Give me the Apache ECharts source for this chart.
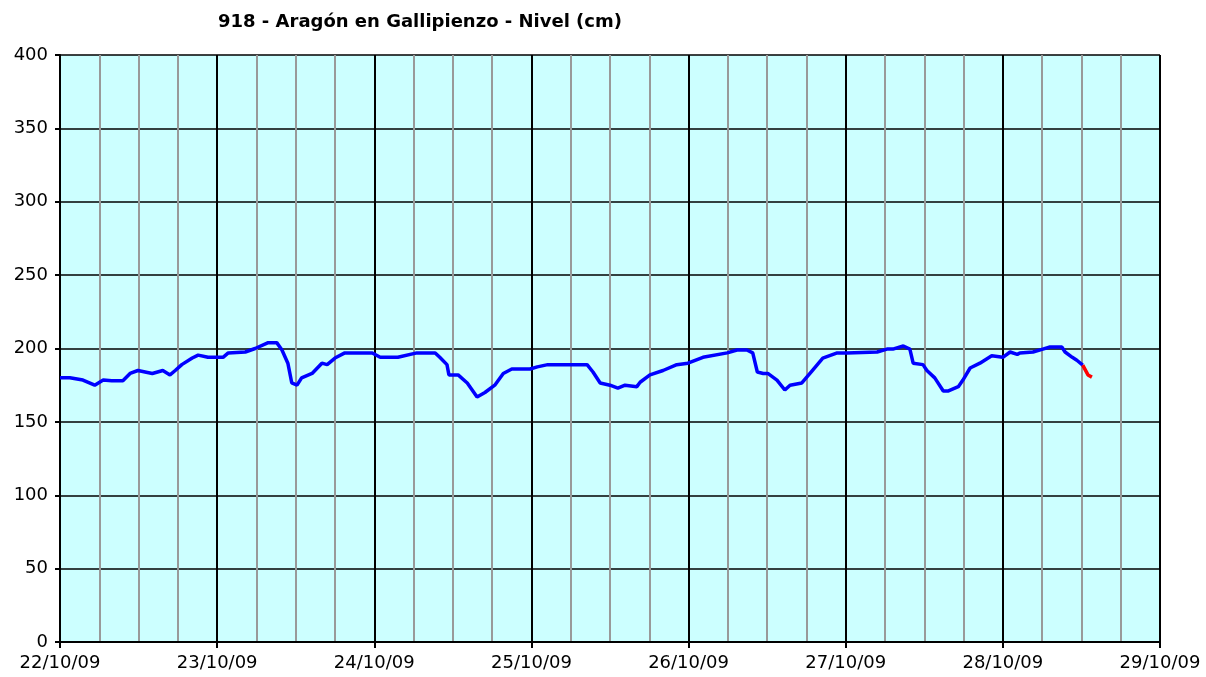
<!DOCTYPE html>
<html>
<head>
<meta charset="utf-8">
<script src="https://cdn.jsdelivr.net/npm/echarts@6/dist/echarts.min.js"></script>
<style>
html,body{margin:0;padding:0;background:#fff;}
#chart{width:1206px;height:677px;}
</style>
</head>
<body>
<div id="chart"></div>
<script>
var titleText = '918 - Aragón en Gallipienzo - Nivel (cm)';
var dayLabels = ['22/10/09','23/10/09','24/10/09','25/10/09','26/10/09','27/10/09','28/10/09','29/10/09'];
var yTicks = [0, 50, 100, 150, 200, 250, 300, 350, 400];

// hours since 22/10/09 00:00
var blueHours = [0,1.5,3.5,5.3,6.6,7.9,9.6,10.7,11.9,14.1,15.7,16.8,17.6,18.6,20.2,21.1,22.6,24.9,25.7,28.3,29.8,31.8,33.1,33.9,34.8,35.4,36.2,36.9,38.5,40.0,40.8,42.0,43.5,44.7,47.7,48.9,51.6,54.5,57.3,58.0,59.1,59.4,60.8,62.2,63.7,64.9,66.4,67.7,69.0,71.8,72.9,74.5,80.5,81.4,82.5,84.0,85.2,86.3,88.1,88.6,90.1,92.1,94.2,95.9,98.2,101.9,103.4,104.9,105.8,106.5,107.4,108.1,109.5,110.7,111.5,113.3,114.9,116.5,118.7,120.2,124.8,126.3,127.2,128.8,129.8,130.3,131.8,132.4,133.6,134.9,135.6,137.2,137.9,139.0,140.5,142.3,144.0,145.1,146.2,146.6,148.6,150.1,151.2,153.0,153.5,154.6,155.3,156.2];
var blueLevels = [180,180,178.5,175,178.5,178,178,183,185,183,185,182,185,189,193.5,195.5,194,194,197,197.6,200,204,204,199,190,176.5,175,180,183,190,189,193.5,197,197,197,194,194,197,197,194,189,182,182,176.5,167,170,175,183,186,186,187.5,189,189,184,176.5,175,173,175,174,177,182,185,189,190,194,197,199,199,197,184,183,183,178.5,171.7,175,176.5,185,193.5,197,197,197.6,199.6,199.6,201.7,199.6,190,189,185,180,171,171,174,178.5,186.7,190,195,194,197.6,196,197,197.6,199.6,201,201,197.6,194,192,188.7];
var redHours = [156.2,157.0,157.6];
var redLevels = [188.7,182,180.5];

function pairs(xs, ys){ return xs.map(function(x,i){ return [x, ys[i]]; }); }

var chart = echarts.init(document.getElementById('chart'), null, {renderer:'canvas'});
var fontFam = '"DejaVu Sans", Verdana, sans-serif';
chart.setOption({
  animation: false,
  backgroundColor: '#ffffff',
  title: {
    text: titleText,
    left: 415, top: 8, textAlign: 'center',
    textStyle: {fontFamily: fontFam, fontSize: 18, fontWeight: 'bold', color: '#000'}
  },
  grid: {
    left: 60, right: 46, top: 55, bottom: 35,
    show: true, backgroundColor: '#CCFFFF', borderWidth: 0
  },
  xAxis: {
    type: 'value', min: 0, max: 168, interval: 24,
    axisLine: {show: true, onZero: false, lineStyle: {color: '#000', width: 2}},
    axisTick: {show: true, length: 6, lineStyle: {color: '#000', width: 2}},
    axisLabel: {
      fontFamily: fontFam, fontSize: 18, color: '#000', margin: 12,
      formatter: function(v){ return dayLabels[Math.round(v/24)]; }
    },
    splitLine: {show: true, lineStyle: {color: '#000', width: 2}},
    minorTick: {show: false, splitNumber: 4},
    minorSplitLine: {show: true, lineStyle: {color: '#999999', width: 2}}
  },
  yAxis: {
    type: 'value', min: yTicks[0], max: yTicks[yTicks.length-1], interval: 50,
    axisLine: {show: true, lineStyle: {color: '#000', width: 2}},
    axisTick: {show: true, length: 5, lineStyle: {color: '#000', width: 2}},
    axisLabel: {fontFamily: fontFam, fontSize: 18, color: '#000', margin: 12},
    splitLine: {show: true, lineStyle: {color: '#000', width: 1.5}}
  },
  series: [
    {
      type: 'line', data: pairs(blueHours, blueLevels), showSymbol: false,
      lineStyle: {color: '#0000FF', width: 3.5}, itemStyle: {color: '#0000FF'}, z: 3
    },
    {
      type: 'line', data: pairs(redHours, redLevels), showSymbol: false,
      lineStyle: {color: '#FF0000', width: 3.5}, itemStyle: {color: '#FF0000'}, z: 4
    }
  ]
});
</script>
</body>
</html>
